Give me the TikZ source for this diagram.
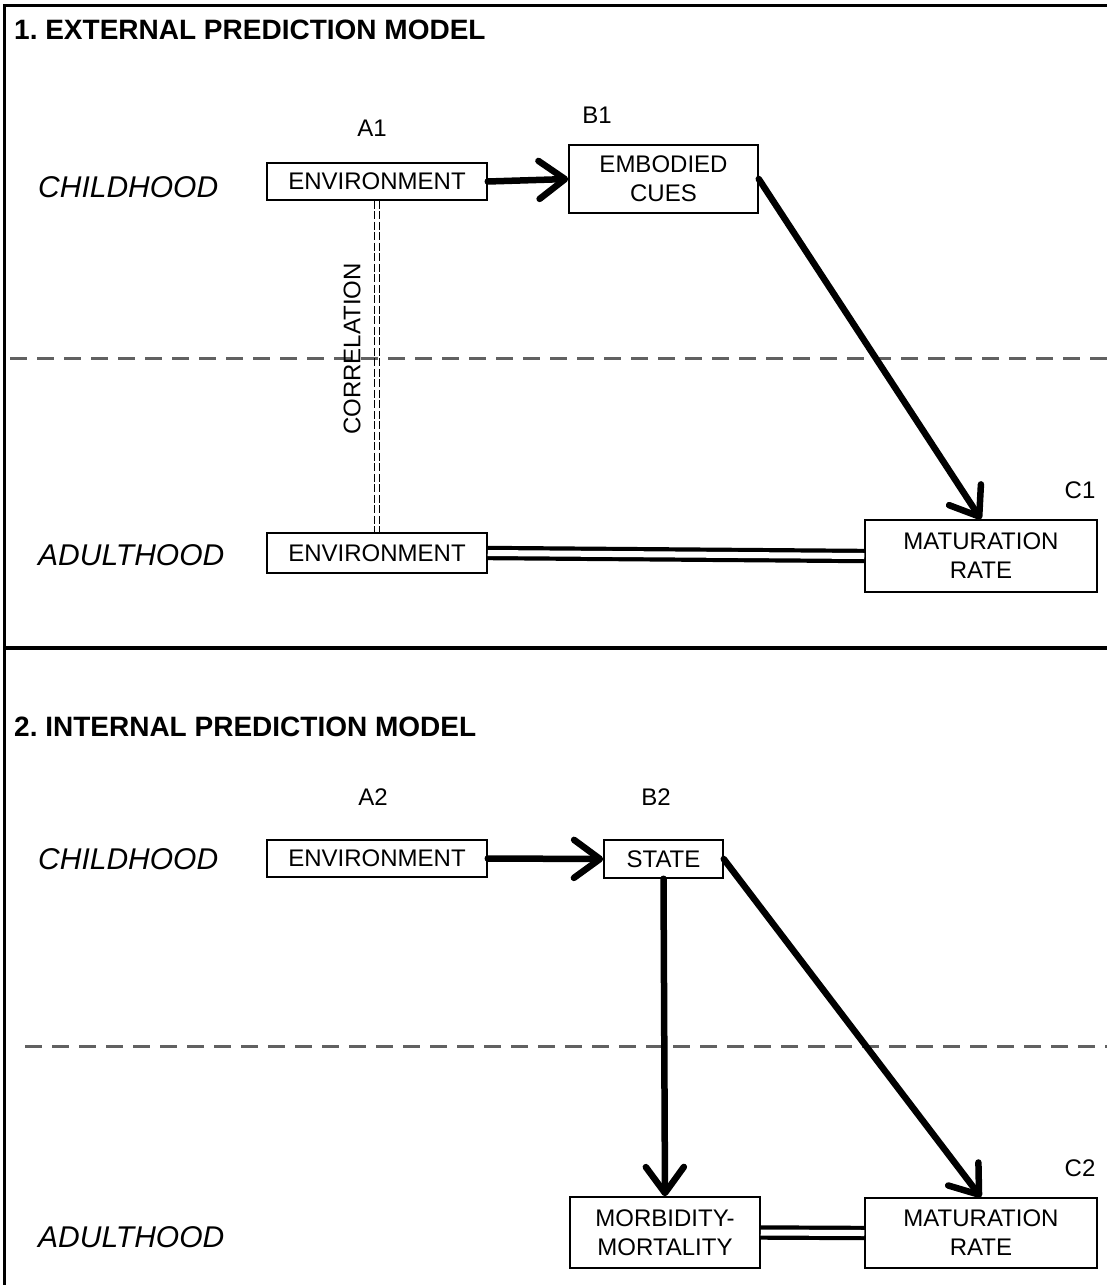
\documentclass[tikz,border=0pt]{standalone}
\usepackage{fontspec}
\setmainfont{Liberation Sans}
\usetikzlibrary{arrows.meta}
\frenchspacing
\tikzset{
  box/.style={draw=black, line width=1.5pt, fill=white, inner sep=0pt, align=center,
    font=\fontsize{24}{29}\selectfont},
  lbl/.style={inner sep=0pt, font=\fontsize{24}{29}\selectfont},
  phase/.style={inner sep=0pt, anchor=west, font=\fontsize{30}{36}\selectfont\itshape},
  ttl/.style={inner sep=0pt, anchor=west, font=\fontsize{28}{34}\selectfont\bfseries},
  bigarrow/.style={line width=6.5pt, line cap=round, -{Straight Barb[length=26pt,width=38pt,round]}},
  dbl/.style={line width=4.2pt, double=white, double distance=6pt},
  corr/.style={line width=1.2pt, dash pattern=on 8pt off 2.5pt},
  sep/.style={draw=black!62, line width=3pt, dash pattern=on 17pt off 10pt},
  frame/.style={line width=3pt, black}
}
\begin{document}
\begin{tikzpicture}[x=1pt,y=-1pt]
\useasboundingbox (0,0) rectangle (1107,1285);
% frame
\draw[frame] (4,1285) -- (4,5) -- (1107,5);
\draw[line width=3.5pt] (4,648) -- (1107,648);
% separators
\draw[sep] (10,358) -- (1107,358);
\draw[sep] (25,1046) -- (1107,1046);

% ---------- panel 1 ----------
\node[ttl] (t1) at (14,30) {1.\ EXTERNAL PREDICTION MODEL};
\node[phase] (ch1) at (38,187) {CHILDHOOD};
\node[phase] (ad1) at (38,555) {ADULTHOOD};
\node[lbl] (la1) at (372,128) {A1};
\node[lbl] (lb1) at (597,115) {B1};
\node[lbl] (lc1) at (1080,490) {C1};

\node[box, minimum width=220pt, minimum height=37pt] (A1) at (377,181.5) {ENVIRONMENT};
\node[box, minimum width=189pt, minimum height=68pt] (B1) at (663.5,179) {EMBODIED\\CUES};
\node[box, minimum width=220pt, minimum height=40pt] (E1) at (377,553) {ENVIRONMENT};
\node[box, minimum width=232pt, minimum height=72pt] (C1) at (981,556) {MATURATION\\RATE};

\draw[bigarrow] (A1.east) -- (B1.west);
\draw[bigarrow] (B1.east) -- (C1.north);
\draw[dbl] (E1.east) -- (C1.west);
\draw[corr] ([xshift=-2.3pt]A1.south) -- ([xshift=-2.3pt]E1.north);
\draw[corr] ([xshift=2.3pt]A1.south) -- ([xshift=2.3pt]E1.north);
\node[lbl, rotate=90] (corrl) at (352,349) {CORRELATION};

% ---------- panel 2 ----------
\node[ttl] (t2) at (14,727) {2.\ INTERNAL PREDICTION MODEL};
\node[phase] (ch2) at (38,859) {CHILDHOOD};
\node[phase] (ad2) at (38,1237) {ADULTHOOD};
\node[lbl] (la2) at (373,797) {A2};
\node[lbl] (lb2) at (656,797) {B2};
\node[lbl] (lc2) at (1080,1168) {C2};

\node[box, minimum width=220pt, minimum height=37pt] (A2) at (377,858.5) {ENVIRONMENT};
\node[box, minimum width=119pt, minimum height=38pt] (S2) at (663.5,859) {STATE};
\node[box, minimum width=190pt, minimum height=71pt] (M2) at (665,1232.5) {MORBIDITY-\\MORTALITY};
\node[box, minimum width=232pt, minimum height=70pt] (C2) at (981,1233) {MATURATION\\RATE};

\draw[bigarrow] (A2.east) -- (S2.west);
\draw[bigarrow] (S2.south) -- (M2.north);
\draw[bigarrow] (S2.east) -- (C2.north);
\draw[dbl] (M2.east) -- (C2.west);
\end{tikzpicture}
\end{document}
